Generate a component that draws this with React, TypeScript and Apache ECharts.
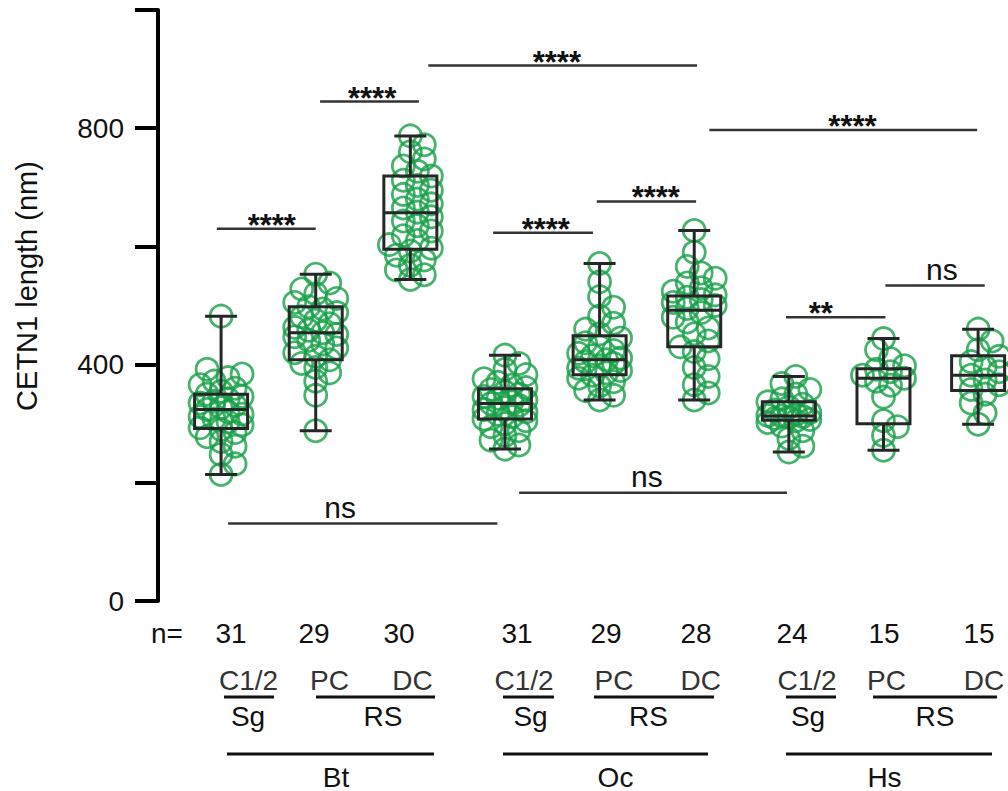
import React, { useEffect, useRef } from "react";
import * as echarts from "echarts";

// ---------------- data ----------------
const groups = ["Bt Sg C1/2", "Bt RS PC", "Bt RS DC", "Oc Sg C1/2", "Oc RS PC", "Oc RS DC", "Hs Sg C1/2", "Hs RS PC", "Hs RS DC"];

const btC12 = [214, 232, 248, 262, 270, 278, 285, 290, 293, 298, 303, 308, 312, 316, 320, 324, 327, 331, 335, 338, 342, 346, 350, 355, 360, 366, 372, 378, 384, 392, 482];
const btPC = [288, 348, 372, 386, 395, 402, 408, 414, 420, 428, 435, 441, 447, 451, 454, 458, 463, 469, 475, 481, 488, 494, 498, 505, 512, 520, 528, 538, 553];
const btDC = [544, 552, 560, 568, 577, 585, 592, 597, 603, 610, 618, 626, 635, 643, 650, 658, 665, 672, 680, 688, 695, 703, 712, 719, 727, 736, 748, 760, 772, 787];
const ocC12 = [257, 264, 272, 280, 288, 295, 300, 305, 308, 312, 316, 320, 324, 327, 331, 334, 337, 340, 343, 346, 350, 354, 358, 361, 365, 370, 376, 383, 392, 402, 416];
const ocPC = [340, 348, 356, 364, 371, 377, 382, 386, 390, 394, 398, 402, 405, 408, 411, 415, 419, 424, 430, 437, 445, 452, 460, 470, 482, 497, 515, 540, 571];
const ocDC = [340, 352, 366, 380, 395, 410, 422, 430, 440, 452, 462, 472, 480, 488, 495, 500, 505, 510, 514, 518, 524, 530, 538, 546, 555, 566, 590, 627];
const hsC12 = [252, 262, 275, 288, 296, 302, 305, 307, 309, 311, 312, 313, 314, 316, 319, 323, 328, 333, 337, 342, 350, 358, 368, 380];
const hsPC = [255, 280, 295, 305, 345, 365, 372, 377, 382, 388, 392, 398, 410, 425, 444];
const hsDC = [299, 318, 335, 350, 358, 366, 374, 382, 388, 396, 405, 414, 425, 440, 460];
const groupValues = [btC12, btPC, btDC, ocC12, ocPC, ocDC, hsC12, hsPC, hsDC];

const boxMin = [214, 288, 544, 257, 340, 340, 252, 255, 299];
const boxQ1 = [292, 408, 595, 308, 383, 430, 306, 300, 356];
const boxMed = [324, 454, 657, 334, 408, 492, 313, 377, 382];
const boxQ3 = [350, 498, 719, 359, 449, 516, 337, 393, 415];
const boxMax = [482, 553, 787, 416, 571, 627, 380, 444, 460];

// significance comparisons (x in group-index units, y in nm)
const sigX1 = [-0.045, 1.046, 2.19, 2.875, 3.97, 5.16, 5.97, 7.02, 0.074, 3.15];
const sigX2 = [1.0, 2.09, 5.03, 3.93, 5.02, 7.99, 7.02, 8.07, 2.92, 5.98];
const sigY = [630, 845, 906, 623, 676, 797, 480, 534, 131, 183];
const sigLabelX = [0.536, 1.596, 3.548, 3.431, 4.594, 6.672, 6.338, 7.617, 1.258, 4.499];
const sigLabel = ["****", "****", "****", "****", "****", "****", "**", "ns", "ns", "ns"];

const yTicks = [0, 400, 800];
const subLabels = ["C1/2", "PC", "DC"];
const levelLabels = ["Sg", "RS"];
const species = ["Bt", "Oc", "Hs"];

// ---------------- layout ----------------
const GRID = { left: 158, top: 10, width: 848.5, height: 591 };
const X_MIN = -2 / 3;
const X_MAX = 8.3;
const Y_MAX = 1000;
const GREEN = "#17a047";
const DARK = "#262626";
const FONT = "Arial, 'Liberation Sans', Helvetica, sans-serif";
const FS = 28;

const nLabelPx = [231, 314, 399, 517, 606, 696, 792, 884, 979];
const subLabelPx = [[248.5, 329.5, 412.5], [524, 614, 700.7], [807, 886.5, 984]];
const sgLinePx = [[224, 274], [503, 554], [786, 836]];
const rsLinePx = [[316, 435], [594, 714], [873, 997]];
const sgTextPx = [248, 530.5, 808];
const rsTextPx = [383, 648.5, 935];
const spLinePx = [[227, 434], [503, 708], [786, 992]];
const spTextPx = [336, 615.5, 884.5];

// beeswarm-style horizontal placement (pixel space), layout only
function swarmOffsets(values: number[]): number[] {
  const xs = GRID.width / (X_MAX - X_MIN);
  const ys = GRID.height / Y_MAX;
  const cands = [0, 7, -7, 14, -14, 21, -21];
  const placed: { x: number; y: number }[] = [];
  const order = values.map((v, i) => i).sort((a, b) => values[a] - values[b]);
  const res: number[] = new Array(values.length).fill(0);
  for (const i of order) {
    const py = values[i] * ys;
    let best = 0;
    let bestD = -1;
    let chosen: number | null = null;
    for (const c of cands) {
      let md = Infinity;
      for (const p of placed) {
        const d = Math.hypot(p.x - c, p.y - py);
        if (d < md) md = d;
      }
      if (md >= 13) {
        chosen = c;
        break;
      }
      if (md > bestD) {
        bestD = md;
        best = c;
      }
    }
    const off = chosen === null ? best : chosen;
    placed.push({ x: off, y: py });
    res[i] = off / xs;
  }
  return res;
}

export default function App() {
  const ref = useRef<HTMLDivElement>(null);
  useEffect(() => {
    if (!ref.current) return;
    const chart = echarts.init(ref.current, null, { renderer: "svg" });

    const pts: number[][] = [];
    groupValues.forEach((vals, g) => {
      const offs = swarmOffsets(vals);
      vals.forEach((v, i) => pts.push([g + offs[i], v]));
    });

    const boxData = groups.map((_, i) => [i, boxMin[i], boxQ1[i], boxMed[i], boxQ3[i], boxMax[i]]);
    const sigData = sigLabel.map((_, i) => [sigX1[i], sigX2[i], sigY[i], sigLabelX[i], i]);

    const graphics: any[] = [];
    const txt = (text: string, x: number, y: number, size: number, extra: any = {}) =>
      graphics.push({
        type: "text",
        x,
        y,
        style: { text, fill: "#111", font: `${size}px ${FONT}`, align: "center", verticalAlign: "middle", ...extra },
      });
    const hline = (x1: number, x2: number, y: number, w: number) =>
      graphics.push({ type: "line", shape: { x1, y1: y, x2, y2: y }, style: { stroke: "#111", lineWidth: w } });

    txt("CETN1 length (nm)", 27, 286, 29);
    graphics[graphics.length - 1].rotation = Math.PI / 2;
    txt("n=", 167, 633, FS);
    groupValues.forEach((vals, g) => txt(String(vals.length), nLabelPx[g], 633, FS));
    for (let s = 0; s < 3; s++) {
      subLabels.forEach((l, k) => txt(l, subLabelPx[s][k], 680, FS, { fill: "#333" }));
      hline(sgLinePx[s][0], sgLinePx[s][1], 697, 3);
      hline(rsLinePx[s][0], rsLinePx[s][1], 697, 3);
      txt(levelLabels[0], sgTextPx[s], 716, FS);
      txt(levelLabels[1], rsTextPx[s], 716, FS);
      hline(spLinePx[s][0], spLinePx[s][1], 754, 3);
      txt(species[s], spTextPx[s], 777, FS);
    }

    chart.setOption({
      animation: false,
      backgroundColor: "#fff",
      grid: { left: GRID.left, top: GRID.top, width: GRID.width, height: GRID.height },
      xAxis: { type: "value", min: X_MIN, max: X_MAX, show: false },
      yAxis: {
        type: "value",
        min: 0,
        max: Y_MAX,
        interval: 200,
        splitLine: { show: false },
        axisLine: { show: true, onZero: false, lineStyle: { color: "#000", width: 4 } },
        axisTick: { show: true, length: 23, lineStyle: { color: "#000", width: 4 } },
        axisLabel: {
          margin: 34,
          fontSize: FS,
          color: "#111",
          fontFamily: FONT,
          formatter: (v: number) => (yTicks.includes(v) ? String(v) : ""),
        },
      },
      graphic: graphics,
      series: [
        {
          type: "scatter",
          data: pts,
          symbol: "circle",
          symbolSize: 22,
          z: 2,
          itemStyle: { color: "rgba(0,0,0,0)", borderColor: GREEN, borderWidth: 2.8 },
        },
        {
          type: "custom",
          z: 3,
          data: boxData,
          renderItem: (params: any, api: any) => {
            const x = api.value(0);
            const c = (v: number) => api.coord([x, v]);
            const [cx, yMin] = c(api.value(1));
            const yQ1 = c(api.value(2))[1];
            const yMed = c(api.value(3))[1];
            const yQ3 = c(api.value(4))[1];
            const yMax = c(api.value(5))[1];
            const st = { stroke: DARK, lineWidth: 3, fill: "none" };
            const hw = 26.5;
            const cw = 16;
            return {
              type: "group",
              children: [
                { type: "line", shape: { x1: cx, y1: yMax, x2: cx, y2: yQ3 }, style: st },
                { type: "line", shape: { x1: cx, y1: yQ1, x2: cx, y2: yMin }, style: st },
                { type: "line", shape: { x1: cx - cw, y1: yMax, x2: cx + cw, y2: yMax }, style: st },
                { type: "line", shape: { x1: cx - cw, y1: yMin, x2: cx + cw, y2: yMin }, style: st },
                { type: "rect", shape: { x: cx - hw, y: yQ3, width: hw * 2, height: yQ1 - yQ3 }, style: st },
                { type: "line", shape: { x1: cx - hw, y1: yMed, x2: cx + hw, y2: yMed }, style: st },
              ],
            };
          },
        },
        {
          type: "custom",
          z: 4,
          data: sigData,
          renderItem: (params: any, api: any) => {
            const p1 = api.coord([api.value(0), api.value(2)]);
            const p2 = api.coord([api.value(1), api.value(2)]);
            const pl = api.coord([api.value(3), api.value(2)]);
            const label = sigLabel[api.value(4)];
            const isNs = label === "ns";
            return {
              type: "group",
              children: [
                { type: "line", shape: { x1: p1[0], y1: p1[1], x2: p2[0], y2: p2[1] }, style: { stroke: "#333", lineWidth: 2.5 } },
                {
                  type: "text",
                  x: pl[0],
                  y: isNs ? p1[1] - 1 : p1[1] + 12,
                  style: {
                    text: label,
                    fill: "#111",
                    font: isNs ? `30px ${FONT}` : `bold 31px ${FONT}`,
                    align: "center",
                    verticalAlign: "bottom",
                  },
                },
              ],
            };
          },
        },
      ],
    });
    return () => chart.dispose();
  }, []);
  return <div ref={ref} style={{ position: "fixed", left: 0, top: 0, width: 1008, height: 791 }} />;
}
